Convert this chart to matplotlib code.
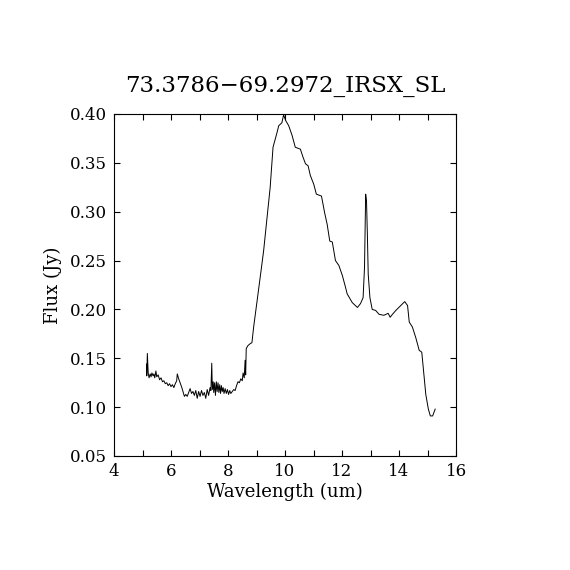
import matplotlib
matplotlib.use('Agg')
import matplotlib.pyplot as plt
from matplotlib.ticker import MultipleLocator

title = '73.3786\u221269.2972_IRSX_SL'

wave = [5.14, 5.15, 5.17, 5.20, 5.23, 5.27, 5.30, 5.33, 5.37, 5.40,
        5.43, 5.47, 5.50, 5.55, 5.60, 5.65, 5.70, 5.75, 5.80, 5.85,
        5.90, 5.95, 6.00, 6.05, 6.10, 6.15, 6.20, 6.22, 6.27, 6.33,
        6.38, 6.43, 6.47, 6.52, 6.57, 6.62, 6.67, 6.72, 6.77, 6.82,
        6.87, 6.92, 6.97, 7.02, 7.07, 7.12, 7.17, 7.22, 7.27, 7.32,
        7.37, 7.40, 7.43, 7.45, 7.48, 7.50, 7.53, 7.56, 7.59, 7.62,
        7.65, 7.68, 7.71, 7.74, 7.77, 7.80, 7.83, 7.86, 7.90, 7.94,
        7.98, 8.02, 8.06, 8.10, 8.15, 8.20, 8.25, 8.30, 8.35, 8.40,
        8.45, 8.50, 8.53, 8.57, 8.60, 8.62, 8.64, 8.70, 8.78, 8.84,
        8.90, 9.01, 9.13, 9.25, 9.37, 9.48, 9.58, 9.72, 9.78, 9.89,
        9.95, 10.03, 10.13, 10.25, 10.36, 10.45, 10.54, 10.63, 10.72, 10.81,
        10.89, 11.01, 11.10, 11.19, 11.28, 11.39, 11.48, 11.57, 11.66, 11.77,
        11.89, 12.01, 12.12, 12.18, 12.36, 12.54, 12.65, 12.74, 12.79, 12.83,
        12.86, 12.89, 12.92, 12.98, 13.06, 13.18, 13.30, 13.47, 13.62, 13.69,
        13.77, 13.89, 14.06, 14.20, 14.30, 14.36, 14.47, 14.59, 14.71, 14.77,
        14.80, 14.88, 14.94, 15.03, 15.10, 15.18, 15.27]

flux = [0.144, 0.132, 0.155, 0.135, 0.130, 0.134, 0.131, 0.135, 0.132, 0.134,
        0.130, 0.137, 0.131, 0.133, 0.128, 0.130, 0.126, 0.127, 0.124, 0.125,
        0.122, 0.124, 0.121, 0.123, 0.120, 0.124, 0.127, 0.134, 0.129, 0.124,
        0.120, 0.115, 0.111, 0.113, 0.111, 0.115, 0.119, 0.114, 0.116, 0.112,
        0.117, 0.109, 0.116, 0.111, 0.117, 0.112, 0.115, 0.109, 0.118, 0.112,
        0.120, 0.117, 0.145, 0.118, 0.126, 0.115, 0.125, 0.112, 0.126, 0.116,
        0.125, 0.115, 0.123, 0.114, 0.122, 0.116, 0.120, 0.114, 0.119, 0.114,
        0.118, 0.113, 0.117, 0.114, 0.116, 0.118, 0.117, 0.122, 0.126, 0.125,
        0.129, 0.127, 0.135, 0.130, 0.148, 0.133, 0.160, 0.163, 0.165, 0.166,
        0.182, 0.206, 0.233, 0.260, 0.294, 0.325, 0.366, 0.381, 0.388, 0.391,
        0.399, 0.393, 0.388, 0.378, 0.366, 0.365, 0.364, 0.356, 0.349, 0.347,
        0.337, 0.328, 0.318, 0.317, 0.316, 0.299, 0.287, 0.270, 0.269, 0.250,
        0.245, 0.235, 0.223, 0.216, 0.207, 0.202, 0.206, 0.212, 0.243, 0.318,
        0.311, 0.277, 0.236, 0.212, 0.200, 0.199, 0.195, 0.194, 0.196, 0.192,
        0.195, 0.199, 0.204, 0.208, 0.204, 0.187, 0.182, 0.171, 0.158, 0.157,
        0.156, 0.131, 0.113, 0.098, 0.091, 0.091, 0.098]

plt.rcParams['font.family'] = 'DejaVu Serif'

fig = plt.figure(figsize=(5.7, 5.7), dpi=100)
ax = fig.add_axes([0.2, 0.2, 0.6, 0.6])
ax.plot(wave, flux, color='black', linewidth=0.7)

ax.set_xlim(4, 16)
ax.set_ylim(0.05, 0.40)
ax.xaxis.set_major_locator(MultipleLocator(2))
ax.xaxis.set_minor_locator(MultipleLocator(1))
ax.yaxis.set_major_locator(MultipleLocator(0.05))
ax.yaxis.set_major_formatter(matplotlib.ticker.FormatStrFormatter('%.2f'))
ax.tick_params(which='both', direction='in', top=True, right=True,
               length=4.3, width=0.8, labelsize=12, pad=5)
for s in ax.spines.values():
    s.set_linewidth(0.8)

ax.set_xlabel('Wavelength (um)', fontsize=13, labelpad=2)
ax.set_ylabel('Flux (Jy)', fontsize=13, labelpad=6)
ax.set_title(title, fontsize=16.5, pad=16)

fig.savefig('out.png', dpi=100)
